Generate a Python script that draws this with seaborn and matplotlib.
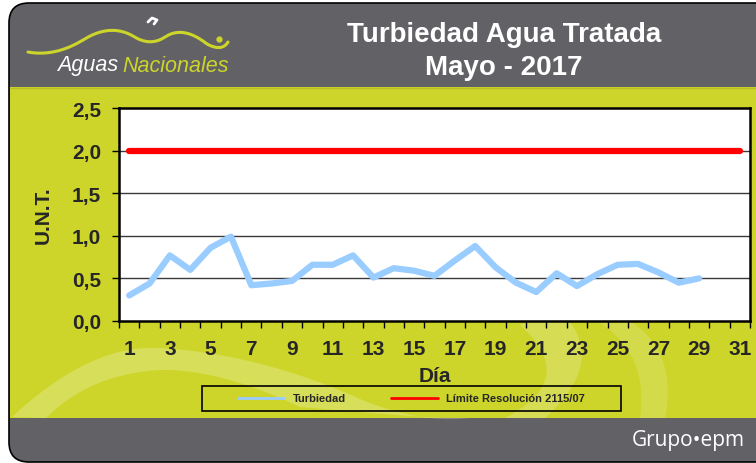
import numpy as np
import pandas as pd
import matplotlib
matplotlib.use("Agg")
import matplotlib.pyplot as plt
import seaborn as sns
from matplotlib.patches import FancyBboxPatch, Rectangle, Polygon
from matplotlib.lines import Line2D

# ---------------- data ----------------
days = list(range(1, 32))
turbidity_days = list(range(1, 30))
turbidity = [0.30, 0.44, 0.77, 0.60, 0.86, 0.99, 0.42, 0.44, 0.47, 0.66,
             0.66, 0.77, 0.51, 0.62, 0.59, 0.53, 0.71, 0.88, 0.63, 0.45,
             0.34, 0.56, 0.41, 0.55, 0.66, 0.67, 0.57, 0.45, 0.50]
limit = [2.0] * 31
y_ticks = [0.0, 0.5, 1.0, 1.5, 2.0, 2.5]
y_tick_labels = ["0,0", "0,5", "1,0", "1,5", "2,0", "2,5"]
x_tick_labels = [str(d) for d in range(1, 32, 2)]
series_names = ["Turbiedad", "Límite Resolución 2115/07"]
title_lines = ["Turbiedad Agua Tratada", "Mayo - 2017"]

GRAY = "#626166"
YELLOW = "#CDD52B"
BLUE = "#99CCFF"
RED = "#FF0000"

sns.set_theme(style="white")
plt.rcParams["font.family"] = ["Liberation Sans", "DejaVu Sans"]

W, H = 756, 464
fig = plt.figure(figsize=(W / 100, H / 100), dpi=100)
fig.patch.set_facecolor("white")

# ---------------- background (pixel coordinates) ----------------
bg = fig.add_axes([0, 0, 1, 1], zorder=0)
bg.set_xlim(0, W)
bg.set_ylim(H, 0)
bg.axis("off")

bg.add_patch(FancyBboxPatch((9, 4), W + 30, H - 5, boxstyle="round,pad=0,rounding_size=20",
                            facecolor=GRAY, edgecolor="black", linewidth=1.2))
bg.add_patch(Rectangle((9.6, 88), W, 331, facecolor=YELLOW, edgecolor="none"))
bg.plot([9.6, W], [88.5, 88.5], color="#B8BF26", lw=1)


def bez(p0, p1, p2, n=60):
    t = np.linspace(0, 1, n)[:, None]
    return (1 - t) ** 2 * np.array(p0) + 2 * (1 - t) * t * np.array(p1) + t ** 2 * np.array(p2)


# decorative light swooshes
up = np.vstack([bez((12, 418), (90, 345), (160, 349)), bez((160, 349), (260, 355), (360, 400)),
                bez((360, 400), (420, 425), (470, 419))])
lo = np.vstack([bez((440, 419), (380, 415), (300, 408)), bez((300, 408), (220, 370), (160, 371)),
                bez((160, 371), (90, 375), (46, 419))])
bg.add_patch(Polygon(np.vstack([up, lo]), closed=True, facecolor="white", alpha=0.22, edgecolor="none"))
r1 = bez((545, 419), (610, 360), (560, 312))
r2 = bez((520, 326), (580, 380), (505, 419))
bg.add_patch(Polygon(np.vstack([r1, r2]), closed=True, facecolor="white", alpha=0.2, edgecolor="none"))
r3 = bez((610, 312), (680, 340), (665, 419))
r4 = bez((640, 419), (650, 350), (590, 318))
bg.add_patch(Polygon(np.vstack([r3, r4]), closed=True, facecolor="white", alpha=0.15, edgecolor="none"))

# logo swoosh
sw = np.vstack([bez((28, 53), (55, 58), (83, 41)), bez((83, 41), (110, 24), (133, 37)),
                bez((133, 37), (150, 48), (165, 38)), bez((165, 38), (183, 26), (207, 45)),
                bez((207, 45), (222, 53), (228, 43))])
bg.plot(sw[:, 0], sw[:, 1], color=YELLOW, lw=2.2, solid_capstyle="round")
bg.plot([218.5], [40], marker="o", ms=3.5, color=YELLOW)
bg.plot([148, 152, 157, 154], [23, 19, 21, 25], color="white", lw=2)
bg.text(57, 66, "Aguas", color="white", fontsize=15.5, style="italic", va="center", ha="left")
bg.text(122, 66, "Nacionales", color=YELLOW, fontsize=15.5, style="italic", va="center", ha="left")

bg.text(504, 35, title_lines[0], color="white", fontsize=20, fontweight="bold", ha="center", va="center")
bg.text(504, 68, title_lines[1], color="white", fontsize=20, fontweight="bold", ha="center", va="center")
bg.text(745, 441, "Grupo•epm", color="white", fontsize=15, ha="right", va="center",
        family=["Open Sans", "DejaVu Sans"])

# legend frame
bg.add_patch(Rectangle((202, 387), 419, 25, facecolor="none", edgecolor="black", lw=1.2))

# ---------------- chart ----------------
ax = fig.add_axes([119 / W, 1 - 322 / H, (750 - 119) / W, (322 - 109) / H], zorder=2)
ax.set_facecolor("white")

df_t = pd.DataFrame({"Día": turbidity_days, "U.N.T.": turbidity})
df_l = pd.DataFrame({"Día": days, "U.N.T.": limit})
sns.lineplot(data=df_l, x="Día", y="U.N.T.", ax=ax, color=RED, lw=4.5, zorder=3,
             solid_capstyle="round", label=series_names[1], legend=False)
sns.lineplot(data=df_t, x="Día", y="U.N.T.", ax=ax, color=BLUE, lw=4.5, zorder=4,
             solid_capstyle="round", label=series_names[0], legend=False)

ax.set_xlim(0.5, 31.5)
ax.set_ylim(0, 2.5)
ax.set_yticks(y_ticks)
ax.set_yticklabels(y_tick_labels, fontsize=15, fontweight="bold")
ax.set_xticks(np.arange(0.5, 32, 1))
ax.set_xticklabels([])
ax.set_xticks(list(range(1, 32, 2)), minor=True)
ax.set_xticklabels(x_tick_labels, minor=True, fontsize=15, fontweight="bold")
ax.tick_params(axis="x", which="major", direction="out", length=5, width=1, color="black", bottom=True)
ax.tick_params(axis="x", which="minor", length=0, pad=13, bottom=True)
ax.tick_params(axis="y", direction="out", length=5, width=1, color="black", pad=8, left=True)
ax.grid(False)
for yv in y_ticks[1:-1]:
    ax.axhline(yv, color="#3a3a3a", lw=1, zorder=1)
for sp in ax.spines.values():
    sp.set_visible(True)
    sp.set_color("black")
    sp.set_linewidth(1.8)

ax.set_xlabel("Día", fontsize=15, fontweight="bold", labelpad=6)
ax.set_ylabel("U.N.T.", fontsize=15, fontweight="bold", labelpad=14)

handles = [Line2D([], [], color=BLUE, lw=2), Line2D([], [], color=RED, lw=2)]
fig.legend(handles, series_names, loc="center", bbox_to_anchor=(411.5 / W, 1 - 399.5 / H),
           ncol=2, frameon=False, prop={"size": 8, "weight": "bold"},
           handlelength=4.2, handletextpad=0.8, columnspacing=4.0)

fig.savefig("out.png", dpi=100)
